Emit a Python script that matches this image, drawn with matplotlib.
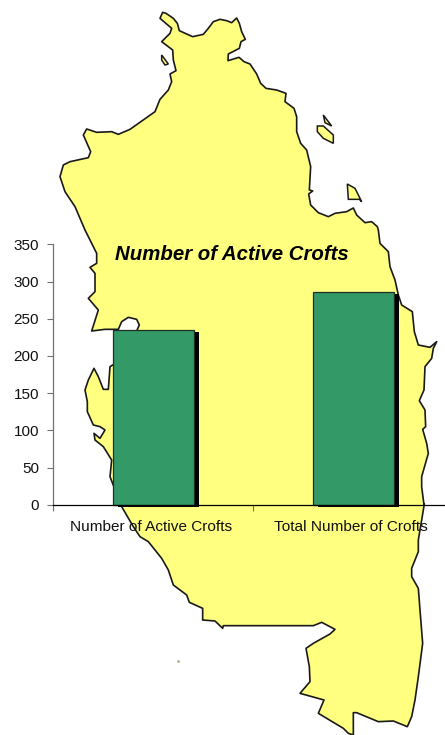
import numpy as np
import matplotlib
matplotlib.use("Agg")
import matplotlib.pyplot as plt
import matplotlib.patheffects as pe
import matplotlib.transforms as mtrans
from matplotlib.patches import Polygon

plt.rcParams['font.family'] = ['Liberation Sans', 'DejaVu Sans']

categories = ["Number of Active Crofts", "Total Number of Crofts"]
crofts = [235, 286]
y_ticks = [0, 50, 100, 150, 200, 250, 300, 350]
title = "Number of Active Crofts"

W, H = 445, 735

# Background map outline, traced in three frames: (x0, y0) offset, scale 1/3
north = [(368,37),(378,40),(400,55),(412,70),(418,92),(440,102),(458,110),(490,103),(505,85),(520,65),
 (540,58),(560,62),(575,68),(590,54),(598,70),(605,95),(616,118),(603,125),(598,145),(565,162),(564,182),
 (597,172),(612,185),(630,192),(650,222),(662,250),(678,265),(710,270),(738,280),(735,305),(762,325),
 (770,350),(770,395),(782,430),(800,450),(812,500),(808,570),(818,573),(806,582),(812,615),(835,638),
 (865,650),(885,640),(920,635),(940,624),(950,645),(975,668),(995,665),(1012,680)]
east = [(1135,0),(1140,40),(1165,65),(1170,110),(1185,150),(1195,195),(1205,225),(1237,245),(1243,305),
 (1255,345),(1290,352),(1310,335),(1300,355),(1295,385),(1275,410),(1272,480),(1258,512),(1275,540),
 (1277,590),(1268,598),(1280,640),(1285,670),(1265,740),(1265,770),(1272,825)]
south = [(1003,12),(985,120),(985,155),(965,205),(965,230),(985,265),(990,330),(998,430),(985,530),(975,600),
 (965,650),(952,680),(910,663),(865,665),(800,638),(790,638),(790,705),(775,700),(760,685),(685,640),
 (702,600),(630,580),(660,545),(658,500),(648,445),(670,430),(720,402),(735,388),(695,367),(670,377),
 (400,377),(398,385),(375,363),(338,360),(338,325),(298,307),(290,285),(250,255),(235,210),(215,175),
 (175,125),(150,110),(130,80),(95,20)]
west = [(330,740),(335,690),(310,650),(285,630),(282,610),(300,625),(315,600),(300,590),(280,585),(262,545),
 (262,515),(255,480),(265,450),(282,415),(295,440),(310,478),(325,478),(330,410),(338,405),(400,380),
 (412,298),(418,285),(410,268),(385,262),(365,275),(355,298),(345,298),(315,298),(275,303),(295,240),
 (265,205),(285,185),(285,130),(270,112),(290,100),(290,70),(255,0)]
northwest = [(135,690),(105,620),(75,575),(60,530),(70,495),(90,485),(145,473),(152,455),(130,405),(140,387),
 (170,397),(215,395),(235,403),(270,388),(345,335),(360,298),(385,270),(395,245),(390,222),(408,212),
 (400,180),(398,150),(365,125),(390,100),(395,85),(360,55)]
islands = [[(365,165),(385,192),(375,195),(365,180)],
 [(850,345),(875,378),(855,368)],
 [(832,378),(850,378),(880,405),(880,430),(850,415),(832,395)],
 [(922,552),(945,565),(965,605),(958,598),(925,598)]]

def frame(pts, x0, y0):
    return [(x0 + x / 3, y0 + y / 3) for x, y in pts]

mainland = (frame(north, 40, 0) + frame(east, 0, 230) + frame(south, 90, 500)
            + frame(west, 0, 230) + frame(northwest, 40, 0))

fig = plt.figure(figsize=(W / 100, H / 100), dpi=100, facecolor='white')

bg = fig.add_axes([0, 0, 1, 1], zorder=0)
bg.set_xlim(0, W)
bg.set_ylim(H, 0)
bg.axis('off')
YEL = '#FFFF80'
bg.add_patch(Polygon(mainland, closed=True, fc=YEL, ec='#1a1a1a', lw=1.2, joinstyle='round'))
for isl in islands:
    bg.add_patch(Polygon(frame(isl, 40, 0), closed=True, fc=YEL, ec='#1a1a1a', lw=1.1))
bg.plot([178], [661], marker='s', ms=1, color='#b8b890')

# Chart axes: left 53 px, zero line at 504.7 px, 350 at 244.3 px, runs past the right edge
left, right, top, bottom = 53, 453.5, 244.3, 504.7
ax = fig.add_axes([left / W, 1 - bottom / H, (right - left) / W, (bottom - top) / H], zorder=1)
ax.patch.set_alpha(0)
x = np.arange(len(categories))
sh = 0.72
bars = ax.bar(x, crofts, width=0.405, color='#339966', edgecolor='#1f2f28', linewidth=0.9, clip_on=False)
for b in bars:
    b.set_path_effects([pe.SimplePatchShadow(offset=(5 * sh, -2.5 * sh), shadow_rgbFace='black', alpha=1.0),
                        pe.Normal()])
ax.set_xlim(-0.5, 1.5)
ax.set_ylim(0, 350)
ax.set_yticks(y_ticks)
ax.set_xticks([-0.5, 0.5, 1.5])
ax.set_xticklabels([])
ax.set_xticks(x, categories, minor=True)
ax.tick_params(axis='x', which='minor', length=0, pad=11, labelsize=11.1, labelcolor='#111111')
ax.tick_params(axis='x', which='major', length=4, width=0.8, color='#707070')
ax.tick_params(axis='y', length=4.5, width=0.8, color='#707070', labelsize=11, labelcolor='#111111', pad=5.5)
shift = mtrans.ScaledTranslation(-2 / 100, 0, fig.dpi_scale_trans)
for lab in ax.get_xticklabels(minor=True):
    lab.set_transform(lab.get_transform() + shift)
for s in ['top', 'right']:
    ax.spines[s].set_visible(False)
ax.spines['left'].set_color('#707070')
ax.spines['left'].set_linewidth(0.9)
ax.spines['bottom'].set_color('black')
ax.spines['bottom'].set_linewidth(0.9)
ax.spines['bottom'].set_zorder(5)

fig.text(232 / W, 1 - 254 / H, title, ha='center', va='center', fontsize=14.7,
         fontweight='bold', fontstyle='italic', color='black', zorder=3)

fig.savefig('out.png', dpi=100)
